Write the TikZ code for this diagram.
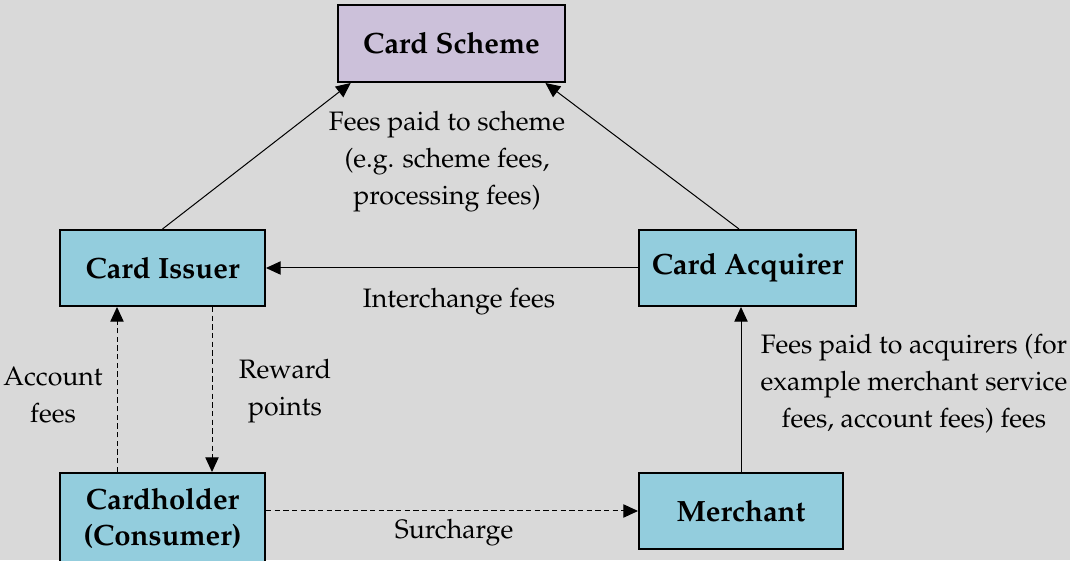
\documentclass[tikz,border=0pt]{standalone}
\usepackage[T1]{fontenc}
\usepackage{mathpazo}
\usepackage{tikz}
\usetikzlibrary{positioning, arrows.meta, calc}
\definecolor{PageBg}{HTML}{D9D9D9}
\definecolor{SchemeFill}{HTML}{CCC1DA}
\definecolor{PartyFill}{HTML}{93CDDD}

\tikzset{
  partybox/.style={draw=black, line width=1.5pt, fill=PartyFill, align=center,
    inner sep=0pt, font=\bfseries\fontsize{22}{27}\selectfont},
  feeflow/.style={-{Triangle[length=11pt,width=10pt]}, line width=0.75pt},
  feedash/.style={feeflow, dash pattern=on 4pt off 2.5pt},
  feelabel/.style={align=center, font=\fontsize{20}{27.75}\selectfont},
}

\begin{document}
\begin{tikzpicture}[x=0.75pt, y=0.75pt]

  \def\px{0.75pt}   % one unit of the grid

  %% Page background
  \fill[PageBg] (0,0) rectangle (1070,560);
  \useasboundingbox (0,0) rectangle (1070,560);

  %% Parties
  \node[partybox, fill=SchemeFill, minimum width=227*\px, minimum height=77*\px]
    (scheme) at (451.5,516.5) {Card Scheme};
  \node[partybox, minimum width=205*\px, minimum height=76*\px]
    (issuer) at (162.5,292) {Card Issuer};
  \node[partybox, minimum width=217*\px, minimum height=76*\px]
    (acquirer) at (747.5,292) {Card Acquirer};
  \node[partybox, minimum width=205*\px, minimum height=92*\px]
    (holder) at (162.5,41) {Cardholder\\(Consumer)};
  \node[partybox, minimum width=204*\px, minimum height=76*\px]
    (merchant) at (741,49) {Merchant};

  %% Fee flows
  \draw[feeflow] (issuer.north) -- ($(scheme.south west)!0.06!(scheme.south east)$);
  \draw[feeflow] ([xshift=-8.5*\px]acquirer.north)
    -- ($(scheme.south west)!0.91!(scheme.south east)$);
  \draw[feeflow] (acquirer.west) -- (issuer.east);
  \draw[feedash] ([xshift=-45.5*\px]holder.north) -- ([xshift=-45.5*\px]issuer.south);
  \draw[feedash] ([xshift=49.5*\px]issuer.south) -- ([xshift=49.5*\px]holder.north);
  \draw[feedash] ([yshift=8*\px]holder.east) -- (merchant.west);
  \draw[feeflow] (merchant.north) -- (merchant.north |- acquirer.south);

  %% Labels
  \node[feelabel] (schemefees) at (447,398)
    {Fees paid to scheme\\(e.g. scheme fees,\\processing fees)};
  \node[feelabel] (interchange) at (459,258) {Interchange fees};
  \node[feelabel] (accountfees) at (53,165) {Account\\fees};
  \node[feelabel] (reward) at (285,169) {Reward\\points};
  \node[feelabel] (acquirerfees) at (914,176)
    {Fees paid to acquirers (for\\example merchant service\\fees, account fees) fees};
  \node[feelabel] (surcharge) at (454,27) {Surcharge};

\end{tikzpicture}
\end{document}
